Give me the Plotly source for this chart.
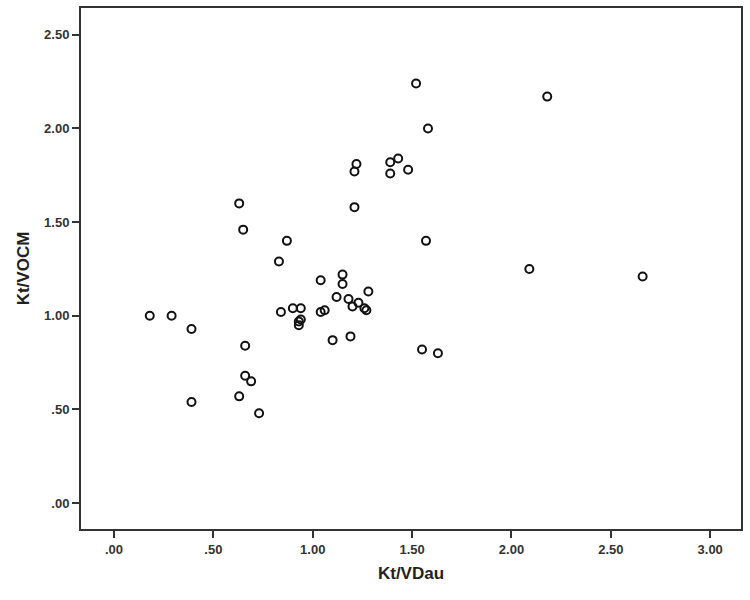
import plotly.graph_objects as go

kt_vdau = [0.18, 0.29, 0.39, 0.39, 0.63, 0.66, 0.66, 0.69, 0.73, 0.63, 0.65, 0.87,
           0.83, 0.84, 0.90, 0.94, 0.94, 0.93, 0.93, 1.04, 1.06, 1.04, 1.15, 1.15,
           1.12, 1.18, 1.23, 1.20, 1.26, 1.27, 1.28, 1.10, 1.19, 1.55, 1.63, 1.21,
           1.22, 1.21, 1.39, 1.43, 1.48, 1.39, 1.52, 1.58, 1.57, 2.18, 2.09, 2.66]
kt_vocm = [1.00, 1.00, 0.93, 0.54, 0.57, 0.84, 0.68, 0.65, 0.48, 1.60, 1.46, 1.40,
           1.29, 1.02, 1.04, 1.04, 0.98, 0.97, 0.95, 1.02, 1.03, 1.19, 1.22, 1.17,
           1.10, 1.09, 1.07, 1.05, 1.04, 1.03, 1.13, 0.87, 0.89, 0.82, 0.80, 1.58,
           1.81, 1.77, 1.82, 1.84, 1.78, 1.76, 2.24, 2.00, 1.40, 2.17, 1.25, 1.21]

x_tickvals = [0, 0.5, 1, 1.5, 2, 2.5, 3]
x_ticktext = ["<b>.00</b>", "<b>.50</b>", "<b>1.00</b>", "<b>1.50</b>", "<b>2.00</b>", "<b>2.50</b>", "<b>3.00</b>"]
y_tickvals = [0, 0.5, 1, 1.5, 2, 2.5]
y_ticktext = ["<b>.00</b>", "<b>.50</b>", "<b>1.00</b>", "<b>1.50</b>", "<b>2.00</b>", "<b>2.50</b>"]

fig = go.Figure(go.Scatter(
    x=kt_vdau, y=kt_vocm, mode="markers",
    marker=dict(symbol="circle-open", size=8, color="#111111", line=dict(width=2, color="#111111")),
    showlegend=False,
))

font_family = "Liberation Sans, Arial, sans-serif"
fig.update_layout(
    width=750, height=600,
    margin=dict(l=81, r=9, t=6, b=71),
    paper_bgcolor="white", plot_bgcolor="white",
    font=dict(family=font_family, color="#222222"),
    xaxis=dict(
        range=[-0.166, 3.155], tickvals=x_tickvals, ticktext=x_ticktext,
        showgrid=False, zeroline=False, showline=True, mirror=True,
        linecolor="#333333", linewidth=2, ticks="outside", ticklen=7, tickwidth=2,
        tickcolor="#333333", tickfont=dict(size=13, color="#333333"),
        title=dict(text="<b>Kt/VDau</b>", font=dict(size=17, color="#222222"), standoff=12),
    ),
    yaxis=dict(
        range=[-0.138, 2.643], tickvals=y_tickvals, ticktext=y_ticktext,
        showgrid=False, zeroline=False, showline=True, mirror=True,
        linecolor="#333333", linewidth=2, ticks="outside", ticklen=7, tickwidth=2,
        tickcolor="#333333", tickfont=dict(size=13, color="#333333"),
        title=dict(text="<b>Kt/VOCM</b>", font=dict(size=17, color="#222222"), standoff=10),
    ),
)

fig.write_html("out.html")
